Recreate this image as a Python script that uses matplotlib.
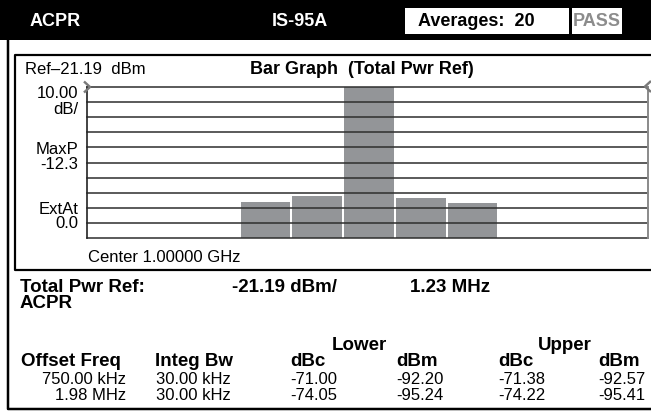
import matplotlib
matplotlib.use('Agg')
import matplotlib.pyplot as plt
from matplotlib.patches import Rectangle
from matplotlib.lines import Line2D

W, H = 651, 412

#### trace settings ####
ref_level = -21.19
db_per_div = 10
n_div = 10
scale_lbl = '10.00'
maxp_lbl = '-12.3'
extat_lbl = '0.0'
center_freq = 'Center 1.00000 GHz'

#### bar levels (dBm), lower 1.98 MHz .. upper 1.98 MHz ####
bar_names = ['L 1.98 MHz', 'L 750 kHz', 'Main', 'U 750 kHz', 'U 1.98 MHz']
bar_dbm = [-97.3, -93.1, -21.19, -94.6, -97.9]

#### ACPR table ####
total_pwr = -21.19
chan_bw = '1.23 MHz'
averages = 20
offset_freq = ['750.00 kHz', '1.98 MHz']
integ_bw = ['30.00 kHz', '30.00 kHz']
lower_dbc = [-71.00, -74.05]
lower_dbm = [-92.20, -95.24]
upper_dbc = [-71.38, -74.22]
upper_dbm = [-92.57, -95.41]

SANS = ['Liberation Sans', 'DejaVu Sans']

fig = plt.figure(figsize=(W / 100, H / 100), dpi=100)


def fx(x):
    return x / W


def fy(y):
    return 1 - y / H


def line(xs, ys, lw=1.5, color='black'):
    fig.add_artist(Line2D([fx(v) for v in xs], [fy(v) for v in ys],
                          lw=lw * 0.72, color=color, solid_capstyle='butt'))


def box(x0, y0, x1, y1, color):
    fig.add_artist(Rectangle((fx(x0), fy(y1)), fx(x1) - fx(x0), fy(y0) - fy(y1),
                             facecolor=color, edgecolor='none'))


def txt(x, y, s, size=11, bold=False, ha='left', color='black'):
    fig.text(fx(x), fy(y), s, fontsize=size, ha=ha, va='center', color=color,
             fontweight='bold' if bold else 'normal', family=SANS)


#### header bar ####
box(0, 0, W, 40, 'black')
txt(30, 21, 'ACPR', 13, True, color='white')
txt(272, 21, 'IS-95A', 13, True, color='white')
box(405, 8, 569, 34, 'white')
txt(418, 21, f'Averages:  {averages}', 13, True)
box(572, 8, 622, 34, 'white')
txt(597, 21, 'PASS', 13, True, ha='center', color='#8c8c8c')

#### outer border and graph panel ####
line([8, 8, W], [40, 409, 409], lw=2.5)
line([W, 15, 15, W], [55, 55, 270, 270], lw=2.2)

#### bar graph ####
gx0, gx1, gy0, gy1 = 87.3, 647.5, 86.7, 238.3
pitch = 51.75
ax = fig.add_axes([fx(gx0), fy(gy1), fx(gx1) - fx(gx0), fy(gy0) - fy(gy1)])
bottom = ref_level - db_per_div * n_div
xs = list(range(len(bar_dbm)))
ax.bar(xs, [v - bottom for v in bar_dbm], bottom=bottom, width=0.96,
       color='#939598', zorder=1)
ax.set_xlim((gx0 - 265.5) / pitch, (gx1 - 265.5) / pitch)
ax.set_ylim(bottom, ref_level)
for k in range(n_div + 1):
    ax.axhline(bottom + k * db_per_div, color='#2e2e2e', lw=1.1,
               zorder=2, clip_on=False)
ax.set_xticks([])
ax.set_yticks([])
for s in ['top', 'bottom']:
    ax.spines[s].set_visible(False)
ax.spines['left'].set_color('#222222')
ax.spines['left'].set_linewidth(1.2)
ax.spines['right'].set_color('#8a8a8a')
ax.spines['right'].set_linewidth(1.4)
ax.set_facecolor('white')

# reference level chevrons
line([84, 90, 84], [81.5, 87, 92.5], lw=2.4, color='#7a7a7a')
line([651, 645, 651], [81, 86.5, 92], lw=2.4, color='#7a7a7a')

txt(25, 70, f'Ref\u2013{abs(ref_level):.2f}  dBm', 12)
txt(362, 70, 'Bar Graph  (Total Pwr Ref)', 13, True, ha='center')
txt(78, 94, scale_lbl, 12, ha='right')
txt(78, 110, 'dB/', 12, ha='right')
txt(78, 149, 'MaxP', 12, ha='right')
txt(78, 164, maxp_lbl, 12, ha='right')
txt(78, 209, 'ExtAt', 12, ha='right')
txt(78, 224, extat_lbl, 12, ha='right')
txt(88, 257, center_freq, 12)

#### result table ####
txt(20, 288, 'Total Pwr Ref:', 13.5, True)
txt(232, 288, f'{total_pwr:.2f} dBm/', 13.5, True)
txt(410, 288, chan_bw, 13.5, True)
txt(20, 304, 'ACPR', 13.5, True)
txt(359, 345, 'Lower', 13.5, True, ha='center')
txt(565, 345, 'Upper', 13.5, True, ha='center')

col_x = [21, 155, 290, 396, 498, 598]
heads = ['Offset Freq', 'Integ Bw', 'dBc', 'dBm', 'dBc', 'dBm']
for x, h in zip(col_x, heads):
    txt(x, 362, h, 13.5, True)

for i in range(len(offset_freq)):
    y = 380 + i * 16
    txt(126, y, offset_freq[i], 12, ha='right')
    txt(col_x[1] + 1, y, integ_bw[i], 12)
    txt(col_x[2], y, f'{lower_dbc[i]:.2f}', 12)
    txt(col_x[3], y, f'{lower_dbm[i]:.2f}', 12)
    txt(col_x[4], y, f'{upper_dbc[i]:.2f}', 12)
    txt(col_x[5], y, f'{upper_dbm[i]:.2f}', 12)

fig.savefig('out.png', dpi=100)
